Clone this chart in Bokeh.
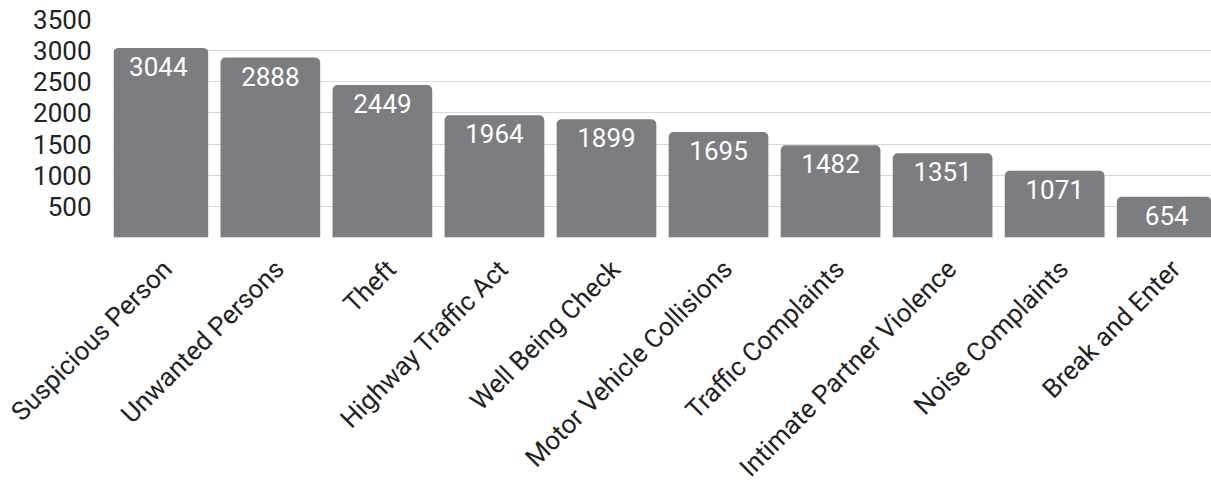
import math
from bokeh.plotting import figure
from bokeh.models import ColumnDataSource, FixedTicker, Range1d, FactorRange
from bokeh.embed import file_html
from bokeh.resources import INLINE
from bokeh.core.properties import value

categories = ["Suspicious Person", "Unwanted Persons", "Theft", "Highway Traffic Act",
              "Well Being Check", "Motor Vehicle Collisions", "Traffic Complaints",
              "Intimate Partner Violence", "Noise Complaints", "Break and Enter"]
counts = [3044, 2888, 2449, 1964, 1899, 1695, 1482, 1351, 1071, 654]
y_ticks = [500, 1000, 1500, 2000, 2500, 3000, 3500]

src = ColumnDataSource(dict(cat=categories, count=counts, label=[str(c) for c in counts],
                            base=[0] * len(categories)))

FONT = "Roboto"
BAR = "#7b7d80"

p = figure(x_range=FactorRange(factors=categories, range_padding=-0.1, range_padding_units="absolute"),
           y_range=Range1d(0, 3500), width=1211, height=489,
           output_backend="svg", toolbar_location=None,
           min_border_left=113, min_border_right=0, min_border_top=19, min_border_bottom=252)
p.outline_line_color = None
p.background_fill_color = "white"

p.vbar(x="cat", top="count", width=0.89, source=src, fill_color=BAR, line_color=None,
       border_radius=(5, 5, 0, 0))
p.text(x="cat", y="count", text="label", source=src, text_align="center", text_baseline="top",
       y_offset=9, text_color="white", text_font=value(FONT), text_font_size="26px")

p.text(x="cat", y="base", text="cat", source=src, angle=math.pi / 4,
       text_align="right", text_baseline="middle", x_offset=9, y_offset=27,
       text_color="#222222", text_font=value(FONT), text_font_size="26px", level="overlay")

p.xgrid.grid_line_color = None
p.ygrid.grid_line_color = "#d9d9d9"
p.ygrid.ticker = FixedTicker(ticks=[0] + y_ticks)

p.yaxis.ticker = FixedTicker(ticks=y_ticks)
p.yaxis.axis_line_color = None
p.yaxis.major_tick_line_color = None
p.yaxis.minor_tick_line_color = None
p.yaxis.major_tick_out = 0
p.yaxis.major_tick_in = 0
p.yaxis.major_label_standoff = 22
p.yaxis.major_label_text_font = FONT
p.yaxis.major_label_text_font_size = "26px"
p.yaxis.major_label_text_color = "#222222"

p.xaxis.visible = False

open("out.html", "w").write(file_html(p, INLINE))
